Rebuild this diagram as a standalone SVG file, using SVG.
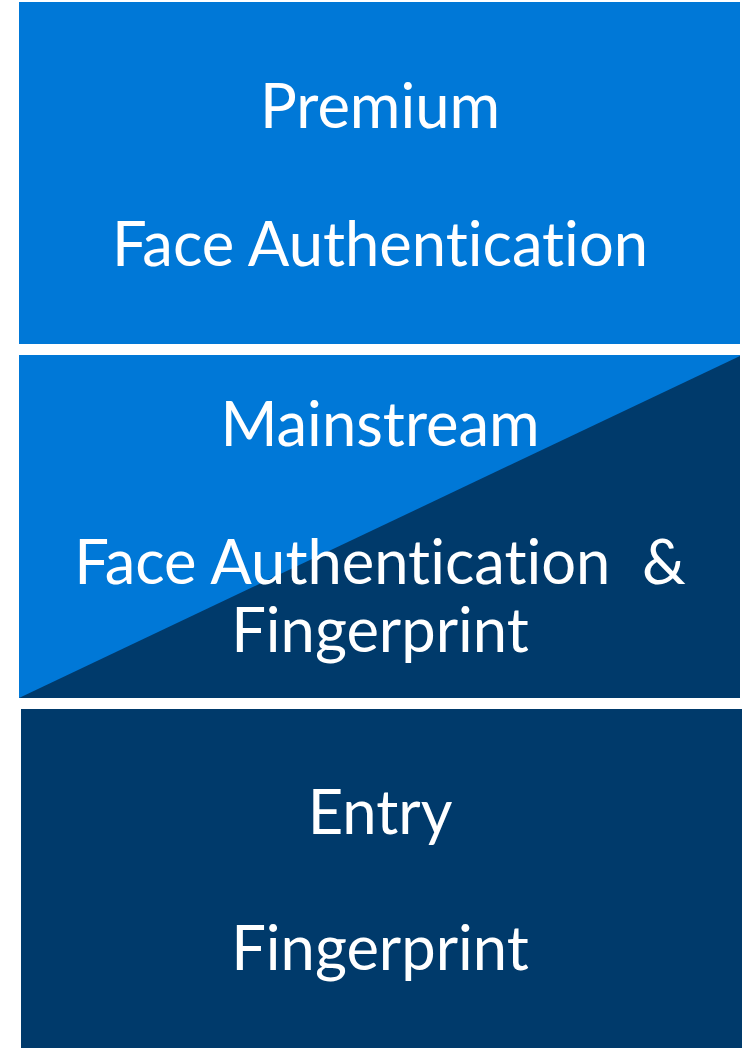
<svg xmlns="http://www.w3.org/2000/svg" width="748" height="1048" viewBox="0 0 748 1048">
<style>
.t{font-family:Lato,"Open Sans",sans-serif;font-size:61.5px;fill:#ffffff;text-anchor:middle;font-variant-ligatures:none;font-feature-settings:"liga" 0,"clig" 0}
.blue{fill:#0078d7}
.dark{fill:#003a6b}
</style>
<rect width="748" height="1048" fill="#ffffff"/>
<g id="premium">
<rect class="blue" x="19" y="2" width="721" height="342"/>
<text class="t" x="380" y="128">Premium</text>
<text class="t" x="380" y="266">Face Authentication</text>
</g>
<g id="mainstream">
<rect class="blue" x="19" y="355" width="721" height="343"/>
<polygon class="dark" points="740,356 740,698 19,698"/>
<text class="t" x="380" y="446">Mainstream</text>
<text class="t" x="380" y="584" xml:space="preserve">Face Authentication  &amp;</text>
<text class="t" x="380" y="652">Fingerprint</text>
</g>
<g id="entry">
<rect class="dark" x="21" y="709" width="721" height="339"/>
<text class="t" x="380" y="834">Entry</text>
<text class="t" x="380" y="970">Fingerprint</text>
</g>
<g id="connectors"/>
</svg>
